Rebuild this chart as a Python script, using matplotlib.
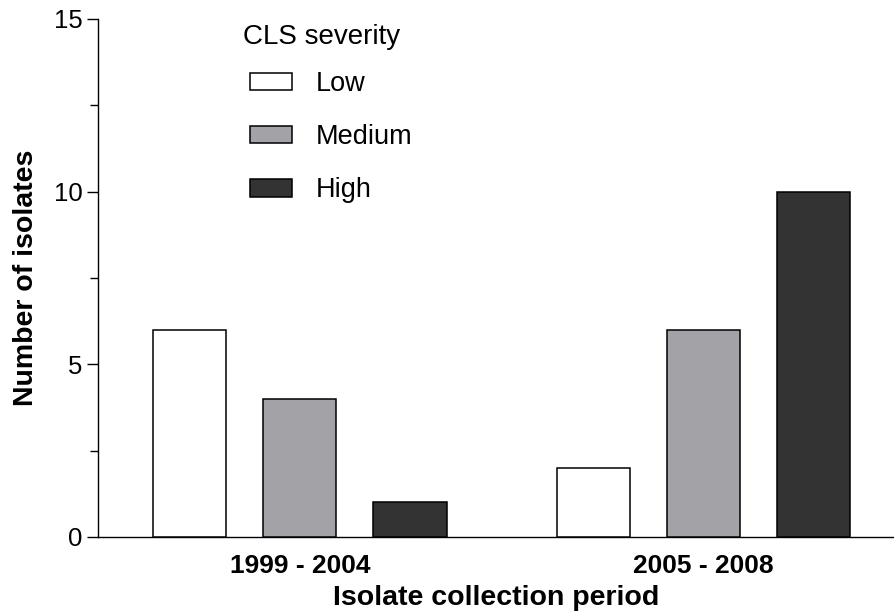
import numpy as np
import matplotlib
matplotlib.use('Agg')
import matplotlib.pyplot as plt
from matplotlib.ticker import MultipleLocator

plt.rcParams['font.family'] = ['Liberation Sans', 'DejaVu Sans']

periods = ['1999 - 2004', '2005 - 2008']
severity = ['Low', 'Medium', 'High']
low = [6, 2]
medium = [4, 6]
high = [1, 10]

colors = ['#ffffff', '#a3a2a7', '#333333']

fig = plt.figure(figsize=(8.95, 6.14), dpi=100)
ax = fig.add_axes([98 / 895, 77 / 614, 797 / 895, 518 / 614])

x = np.arange(len(periods))
step = 110 / 403
width = 73 / 403
for i, (vals, name) in enumerate(zip([low, medium, high], severity)):
    ax.bar(x + (i - 1) * step, vals, width, color=colors[i], edgecolor='black',
           linewidth=1.1, label=name, zorder=3)

ax.set_xlim(-0.501, 1.476)
ax.set_ylim(0, 15)
ax.yaxis.set_major_locator(MultipleLocator(5))
ax.yaxis.set_minor_locator(MultipleLocator(2.5))
ax.tick_params(axis='y', which='major', length=8, width=1, labelsize=18.5, pad=3)
ax.tick_params(axis='y', which='minor', length=5.5, width=1)
ax.set_xticks(x)
ax.set_xticklabels(periods, fontsize=19, fontweight='bold')
ax.tick_params(axis='x', length=0, pad=12)

for side in ['top', 'right']:
    ax.spines[side].set_visible(False)
for side in ['left', 'bottom']:
    ax.spines[side].set_linewidth(1)

ax.set_xlabel('Isolate collection period', fontsize=20.5, fontweight='bold', labelpad=5)
ax.set_ylabel('Number of isolates', fontsize=20.5, fontweight='bold', labelpad=11)

# legend title drawn on its own so the boxes can sit slightly indented
fig.text(243 / 895, 1 - 37 / 614, 'CLS severity', fontsize=20, ha='left', va='center')
leg = ax.legend(loc='upper left', bbox_to_anchor=(250 / 895, 1 - 71 / 614),
                bbox_transform=fig.transFigure, frameon=False, fontsize=19.5,
                handlelength=1.55, handleheight=0.63, handletextpad=0.88,
                labelspacing=1.0, borderpad=0, borderaxespad=0)

fig.savefig('out.png', dpi=100)
